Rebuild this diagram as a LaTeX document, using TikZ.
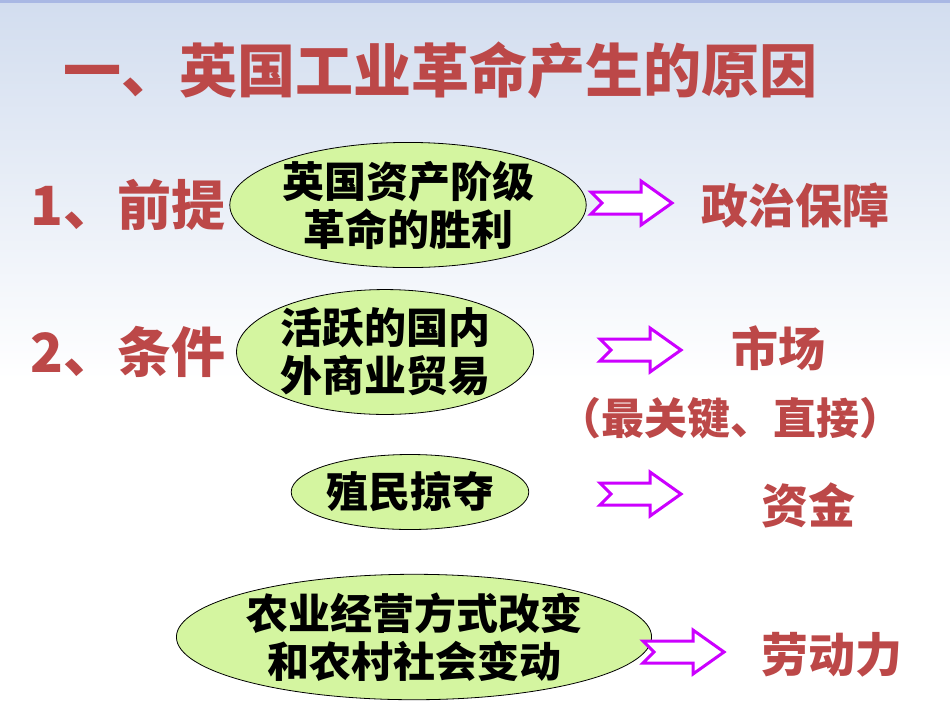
\documentclass[tikz,border=0pt]{standalone}
\usepackage{fontspec}
\usetikzlibrary{shapes.geometric}
\setmainfont{Noto Sans CJK SC}
\definecolor{ttl}{HTML}{BC4848}
\definecolor{ell}{HTML}{D4F5A0}
\definecolor{arr}{HTML}{CC00FF}
\definecolor{bgtop}{HTML}{D2DDEF}
\definecolor{strip}{HTML}{A9B8E4}
\begin{document}
\begin{tikzpicture}[x=1pt,y=-1pt,
  lbl/.style={text=ttl,font=\bfseries\fontsize{54}{58}\selectfont,inner sep=0},
  res/.style={text=ttl,font=\bfseries\fontsize{47}{52}\selectfont,inner sep=0},
  oval/.style={draw=black,line width=0.8pt,fill=ell,ellipse,inner sep=0,align=center,font=\bfseries\fontsize{42}{48}\selectfont},
  fat/.style={draw=arr,line width=3pt,fill=white,line join=miter}]
\useasboundingbox (0,0) rectangle (950,713);
\shade[top color=bgtop,bottom color=white] (0,0) rectangle (950,380);
\fill[white] (0,380) rectangle (950,713);
\fill[strip] (0,0) rectangle (950,3);
\node[text=ttl,font=\bfseries\fontsize{58}{62}\selectfont,inner sep=0] (title) at (440,70) {一、英国工业革命产生的原因};
\node[lbl] (l1) at (128,205) {1、前提};
\node[lbl] (l2) at (128,352) {2、条件};
\node[oval,minimum width=316,minimum height=120] (e1) at (408,205) {英国资产阶级\\革命的胜利};
\node[oval,minimum width=254,minimum height=119] (e2) at (385,352) {活跃的国内\\外商业贸易};
\node[oval,minimum width=230,minimum height=75] (e3) at (410,492) {殖民掠夺};
\node[oval,minimum width=402,minimum height=105] (e4) at (414,637) {农业经营方式改变\\和农村社会变动};
\foreach \n/\cx/\cy in {a1/631/203, a2/640/350, a3/640/494, a4/683/652}{
  \coordinate (\n) at (\cx,\cy);
  \draw[fat] ([shift={(-40,-11)}]\n) -- ++(50,0) -- ++(0,-11) -- ++(31,22) -- ++(-31,22) -- ++(0,-11) -- ++(-50,0) -- ++(11,-11) -- cycle;
}
\node[res] (r1) at (795,205) {政治保障};
\node[res] (r2) at (778,348) {市场};
\node[text=ttl,font=\bfseries\fontsize{43}{46}\selectfont,inner sep=0] (r2b) at (730,418) {（最关键、直接）};
\node[res] (r3) at (808,505) {资金};
\node[res] (r4) at (832,655) {劳动力};
\end{tikzpicture}
\end{document}
